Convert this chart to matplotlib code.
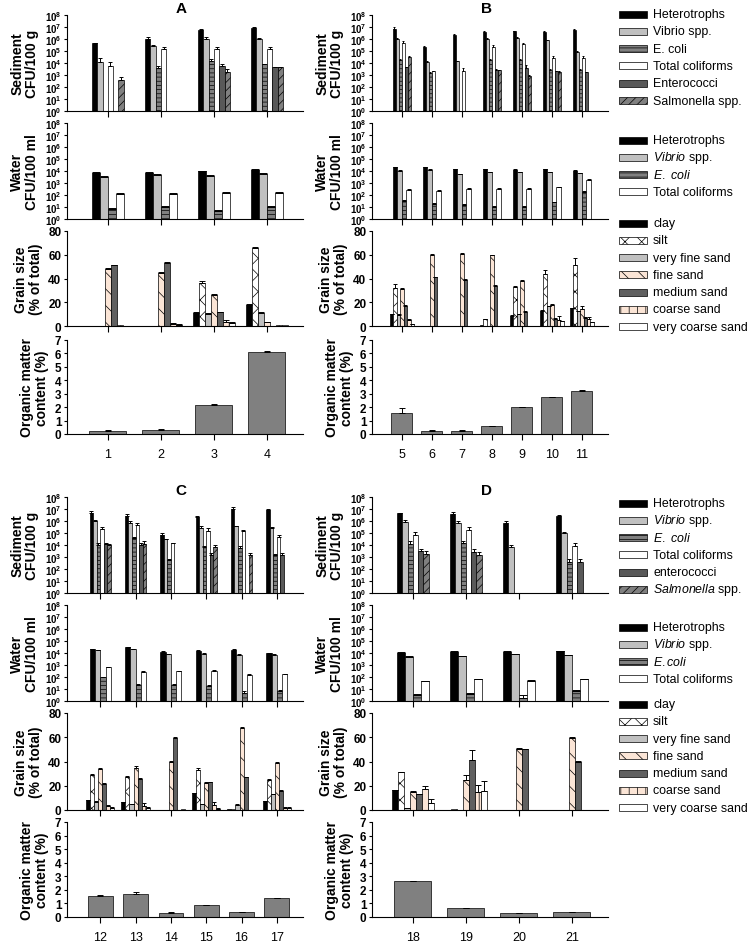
import numpy as np
import matplotlib
matplotlib.use("Agg")
import matplotlib.pyplot as plt
from matplotlib.patches import Rectangle

plt.rcParams['font.family'] = 'Liberation Sans'
plt.rcParams['mathtext.fontset'] = 'custom'
plt.rcParams['mathtext.rm'] = 'Liberation Sans'
plt.rcParams['mathtext.it'] = 'Liberation Sans:italic'
plt.rcParams['mathtext.bf'] = 'Liberation Sans:bold'
plt.rcParams['hatch.linewidth'] = 0.5

nan = np.nan

# ---- sites ----
sites_A = [1, 2, 3, 4]
sites_B = [5, 6, 7, 8, 9, 10, 11]
sites_C = [12, 13, 14, 15, 16, 17]
sites_D = [18, 19, 20, 21]

# ---- sediment CFU/100 g (rows: heterotrophs, vibrio, E. coli, total coliforms, enterococci, salmonella) ----
A_sed = [[4.5e5, 1.0e6, 5.7e6, 9e6],
         [1.2e4, 2.8e5, 1.1e6, 1.1e6],
         [nan, 4e3, 1.6e4, 7.5e3],
         [6e3, 1.5e5, 1.5e5, 1.5e5],
         [nan, nan, 6e3, 4.5e3],
         [3.5e2, nan, 1.7e3, 4.5e3]]
A_sed_err = [[3e4, 6e5, 1e6, 1e6],
             [1.3e4, 5e4, 3e5, 2e5],
             [nan, 2e3, 5e3, 1e3],
             [6e3, 5e4, 8e4, 7e4],
             [nan, nan, 3e3, 5e2],
             [3.3e2, nan, 1.6e3, 5e2]]

B_sed = [[7.4e6, 2.3e5, 2.3e6, 3.5e6, 4.5e6, 4.2e6, 5.7e6],
         [1.1e6, 1.2e4, 1.4e4, 9.8e5, 1.2e6, 8e5, 7.8e4],
         [1.9e4, 1.5e3, nan, 1.9e4, 1.9e4, 2.7e3, 2.7e3],
         [5e5, 2e3, 2e3, 2e5, 3.5e5, 2.5e4, 2.5e4],
         [4.5e3, nan, nan, 2.7e3, 4.2e3, 2e3, 1.7e3],
         [3e4, nan, nan, 2.4e3, 9e2, 1.7e3, nan]]
B_sed_err = [[2.5e6, 5e4, 4e5, 1e6, 5e5, 3e5, 1e6],
             [1e5, 2e3, 2e3, 2e5, 2e5, 1e5, 2e4],
             [2e3, 2e2, nan, 2e3, 2e3, 5e2, 5e2],
             [2e5, 2e2, 1.5e3, 1.2e5, 1.5e5, 1.5e4, 1.2e4],
             [5e2, nan, nan, 3e2, 2e3, 3e2, 2e2],
             [1e4, nan, nan, 3e2, 1e2, 3e2, nan]]

C_sed = [[4.9e6, 2.6e6, 6.6e4, 2.1e6, 9.2e6, 7.6e6],
         [9.8e5, 7e5, 2.9e4, 2.7e5, 3.7e5, 2.7e5],
         [1.1e4, 3.5e4, 5.4e2, 6.6e3, 5.8e3, 1.4e3],
         [2e5, 5.1e5, 1.5e4, 1.6e5, 1.4e5, 4.5e4],
         [1.3e4, 1.1e4, nan, 1.6e3, nan, 1.6e3],
         [9.6e3, 1.3e4, nan, 7e3, 1.6e3, nan]]
C_sed_err = [[1.5e6, 1.5e6, 3e4, 5e5, 5e6, 1.5e6],
             [3e5, 3e5, 3e3, 1e5, 5e4, 5e4],
             [3e3, 1e4, 1e2, 1e3, 2e3, 5e2],
             [1e5, 2e5, 1e3, 8e4, 4e4, 2e4],
             [3e3, 3e3, nan, 5e2, nan, 5e2],
             [3e3, 1e4, nan, 4e3, 5e2, nan]]

D_sed = [[4.6e6, 4e6, 7e5, 2.6e6],
         [8.5e5, 6.2e5, 7.4e3, 9.1e4],
         [1.3e4, 1.5e4, nan, 3.9e2],
         [6.6e4, 1.8e5, nan, 9e3],
         [3e3, 2.5e3, nan, 3.9e2],
         [1.9e3, 1.4e3, nan, nan]]
D_sed_err = [[5e5, 1.5e6, 3e5, 3e5],
             [3e5, 3e5, 3e3, 3e4],
             [8e3, 8e3, nan, 3e2],
             [5e4, 1.5e5, nan, 6e3],
             [2e3, 2e3, nan, 3e2],
             [1.3e3, 1.2e3, nan, nan]]

# ---- water CFU/100 ml (rows: heterotrophs, vibrio, E. coli, total coliforms) ----
A_wat = [[6.8e3, 7e3, 9.4e3, 1.3e4],
         [3.2e3, 4.9e3, 4e3, 6e3],
         [7, 11, 5, 10],
         [130, 130, 160, 150]]
A_wat_err = [[800, 600, 1200, 1500],
             [300, 300, 300, 400],
             [1.5, 2, 1, 1.5],
             [15, 10, 20, 15]]

B_wat = [[2.1e4, 2.1e4, 1.5e4, 1.5e4, 1.3e4, 1.5e4, 1.07e4],
         [1.1e4, 1.2e4, 5.6e3, 7.7e3, 7.7e3, 7.7e3, 6.8e3],
         [30, 19, 15, 10, 10, 24, 190],
         [280, 230, 320, 320, 340, 440, 1900]]
B_wat_err = [[2e3, 2e3, 1e3, 1e3, 1e3, 1e3, 1e3],
             [1e3, 2e3, 500, 500, 500, 500, 500],
             [5, 3, 2, 2, 2, 4, 30],
             [30, 20, 30, 30, 30, 40, 200]]

C_wat = [[2.1e4, 2.9e4, 1.25e4, 1.6e4, 1.7e4, 9.6e3],
         [1.7e4, 2.1e4, 8.5e3, 9e3, 7e3, 7e3],
         [100, 23, 23, 18, 5, 7],
         [650, 260, 300, 320, 160, 170]]
C_wat_err = [[2e3, 3e3, 1e3, 1.5e3, 3e3, 1e3],
             [1e3, 1e3, 500, 500, 500, 500],
             [10, 4, 4, 3, 2, 1.5],
             [60, 30, 30, 30, 15, 15]]

D_wat = [[1.1e4, 1.25e4, 1.25e4, 1.4e4],
         [4.8e3, 5.7e3, 8e3, 6.6e3],
         [3, 3.8, 1.9, 6.9],
         [44, 65, 44, 65]]
D_wat_err = [[1e3, 1e3, 1e3, 1e3],
             [400, 400, 400, 400],
             [0.7, 0.8, 1.5, 1],
             [6, 8, 8, 8]]

# ---- grain size % (rows: clay, silt, very fine, fine, medium, coarse, very coarse) ----
A_grain = [[0, 0, 11, 18],
           [0, 0, 36.5, 65.5],
           [0, 0, 10.5, 11],
           [48, 44.5, 26, 3],
           [51, 53, 11.5, 0.3],
           [0.5, 2, 3, 0.5],
           [0, 1, 2.5, 0.8]]
A_grain_err = [[0, 0, 0.5, 0.5],
               [0, 0, 1, 0.8],
               [0, 0, 0.3, 0.5],
               [0.5, 1, 0.8, 0.5],
               [0.5, 0.5, 0.3, 0],
               [0, 0.3, 2, 0],
               [0, 0.3, 1, 0]]

B_grain = [[10, 0, 0, 0.5, 8.5, 13, 15],
           [32, 0, 0, 5.5, 33, 44, 51],
           [9.5, 0, 0, 0, 10, 16.5, 12.5],
           [31, 60, 61, 59.5, 38, 18, 14.5],
           [16.5, 41, 39, 34, 12, 6, 7],
           [5, 0, 0, 0, 0, 5, 6],
           [1.5, 0, 0, 0, 0, 4, 3]]
B_grain_err = [[0.5, 0, 0, 0, 0.5, 0.5, 0.5],
               [3, 0, 0, 0.5, 1, 3, 6.5],
               [0.5, 0, 0, 0, 0.5, 0.5, 0.5],
               [1, 0.5, 0.5, 0.5, 0.5, 0.5, 2],
               [1.5, 0.5, 0.5, 0.5, 0.5, 0.5, 0.5],
               [1, 0, 0, 0, 0, 3.5, 1.5],
               [0.5, 0, 0, 0, 0, 0.5, 0.5]]

C_grain = [[8, 6.5, 0, 14, 0.5, 7.5],
           [29, 27, 0, 33, 0.5, 24.5],
           [7, 5, 0, 5, 4.5, 13],
           [34, 35, 40, 22.5, 68, 39],
           [21.5, 25.5, 59.5, 23, 27, 16],
           [3.5, 3, 0, 4.5, 0, 2],
           [2, 2, 1, 1, 0, 2]]
C_grain_err = [[0.3, 0.3, 0, 0.3, 0, 0.3],
               [1, 1, 0, 1.5, 0, 1],
               [0.3, 0.3, 0, 0.3, 0.3, 0.3],
               [0.5, 1, 0.5, 0.5, 0.5, 0.5],
               [0.5, 0.5, 0.5, 0.5, 0.5, 0.5],
               [1, 2.5, 0, 2, 0, 0.3],
               [0.3, 0.3, 0, 0.3, 0, 0.3]]

D_grain = [[16.5, 0.3, 0, 0],
           [31, 0.5, 0, 0.3],
           [1.5, 0, 0, 0],
           [15, 25, 50.5, 59.5],
           [13, 41.5, 50, 40],
           [17, 14.5, 0, 0],
           [6, 16, 0.3, 0.3]]
D_grain_err = [[0.3, 0, 0, 0],
               [0.5, 0, 0, 0],
               [0.3, 0, 0, 0],
               [0.5, 4, 0.5, 0.5],
               [0.5, 8, 0.5, 0.3],
               [2.5, 6.5, 0, 0],
               [3, 8, 0, 0]]

# ---- organic matter content % ----
A_org = [0.25, 0.32, 2.15, 6.1]
A_org_err = [0.02, 0.02, 0.06, 0.08]
B_org = [1.6, 0.25, 0.25, 0.57, 1.98, 2.72, 3.2]
B_org_err = [0.3, 0.02, 0.02, 0.05, 0.02, 0.04, 0.1]
C_org = [1.55, 1.68, 0.33, 0.88, 0.35, 1.38]
C_org_err = [0.04, 0.15, 0.02, 0.02, 0.02, 0.02]
D_org = [2.63, 0.68, 0.32, 0.39]
D_org_err = [0.03, 0.02, 0.01, 0.01]

# ---- styles ----
PEACH = '#fbe5d6'
sed_styles = [dict(facecolor='black'),
              dict(facecolor='#c0c0c0'),
              dict(facecolor='#808080', hatch='----'),
              dict(facecolor='white'),
              dict(facecolor='#595959'),
              dict(facecolor='#808080', hatch='////')]
wat_styles = sed_styles[:4]
grain_styles = [dict(facecolor='black'),
                dict(facecolor='white', hatch='xx'),
                dict(facecolor='#c0c0c0'),
                dict(facecolor=PEACH, hatch='\\\\'),
                dict(facecolor='#606060'),
                dict(facecolor=PEACH, hatch='||'),
                dict(facecolor='white')]

W, H = 749, 945
fig = plt.figure(figsize=(W / 100, H / 100), dpi=100)


def add_ax(x0, x1, y_top, y_bot):
    return fig.add_axes([x0 / W, 1 - y_bot / H, (x1 - x0) / W, (y_bot - y_top) / H])


def style_ax(ax, sites, xlim, show_xlabels, ysize=8.5):
    for s in ('top', 'right'):
        ax.spines[s].set_visible(False)
    for s in ('left', 'bottom'):
        ax.spines[s].set_linewidth(0.8)
    ax.set_xlim(*xlim)
    ax.set_xticks(sites)
    ax.tick_params(axis='x', length=4, width=0.8, pad=6, labelsize=9)
    ax.tick_params(axis='y', length=2.5, width=0.8, pad=1.5, labelsize=ysize)
    if not show_xlabels:
        ax.set_xticklabels([])
    for lab in ax.get_yticklabels():
        lab.set_fontweight('bold')


def draw_group(ax, sites, rows, errs, styles, width, xscale):
    x = np.array(sites, float)
    n = len(rows)
    cap = width * xscale * 0.72 / 2 * 0.9
    for i, (vals, err, st) in enumerate(zip(rows, errs, styles)):
        off = (i - (n - 1) / 2) * width
        v = np.array(vals, float)
        e = np.array(err, float)
        ax.bar(x + off, np.nan_to_num(v), width, edgecolor='black', linewidth=0.5, **st)
        ok = ~np.isnan(v) & ~np.isnan(e) & (e > 0) & (np.nan_to_num(v) > 0)
        if ok.any():
            ax.errorbar(x[ok] + off, v[ok], yerr=[np.zeros(ok.sum()), e[ok]], fmt='none',
                        ecolor='black', elinewidth=0.7, capsize=cap, capthick=0.7)


def log_axis(ax, label):
    ax.set_yscale('log')
    ax.set_ylim(1, 1e8)
    ax.set_yticks([10.0 ** k for k in range(9)])
    ax.set_yticklabels([r'$\mathbf{10^{%d}}$' % k for k in range(9)])
    ax.minorticks_off()
    ax.set_ylabel(label, fontsize=10, fontweight='bold', linespacing=1.1)


panels = [
    ('A', sites_A, (0.23, 4.68), (67, 303), (16, 112, 124, 220, 232, 327, 341, 435),
     A_sed, A_sed_err, A_wat, A_wat_err, A_grain, A_grain_err, A_org, A_org_err),
    ('B', sites_B, (4.0, 11.87), (372, 608), (16, 112, 124, 220, 232, 327, 341, 435),
     B_sed, B_sed_err, B_wat, B_wat_err, B_grain, B_grain_err, B_org, B_org_err),
    ('C', sites_C, (11.06, 17.74), (67, 303), (498, 594, 606, 702, 714, 811, 823, 918),
     C_sed, C_sed_err, C_wat, C_wat_err, C_grain, C_grain_err, C_org, C_org_err),
    ('D', sites_D, (17.23, 21.68), (372, 608), (498, 594, 606, 702, 714, 811, 823, 918),
     D_sed, D_sed_err, D_wat, D_wat_err, D_grain, D_grain_err, D_org, D_org_err),
]

for (name, sites, xlim, (x0, x1), ys, sed, sed_e, wat, wat_e, grain, grain_e, org, org_e) in panels:
    xscale = (x1 - x0) / (xlim[1] - xlim[0])  # px per unit

    ax = add_ax(x0, x1, ys[0], ys[1])
    log_axis(ax, 'Sediment\nCFU/100 g')
    draw_group(ax, sites, sed, sed_e, sed_styles, 0.1, xscale)
    style_ax(ax, sites, xlim, False, ysize=7.0)

    ax = add_ax(x0, x1, ys[2], ys[3])
    log_axis(ax, 'Water\nCFU/100 ml')
    draw_group(ax, sites, wat, wat_e, wat_styles, 0.15, xscale)
    style_ax(ax, sites, xlim, False, ysize=7.0)

    ax = add_ax(x0, x1, ys[4], ys[5])
    draw_group(ax, sites, grain, grain_e, grain_styles, 0.114, xscale)
    ax.set_ylim(0, 80)
    ax.set_yticks([0, 20, 40, 60, 80])
    ax.set_ylabel('Grain size\n(% of total)', fontsize=10, fontweight='bold', linespacing=1.1)
    style_ax(ax, sites, xlim, False)

    ax = add_ax(x0, x1, ys[6], ys[7])
    ax.bar(sites, org, 0.7, color='#808080', edgecolor='black', linewidth=0.5)
    ax.errorbar(sites, org, yerr=[np.zeros(len(org)), org_e], fmt='none', ecolor='black',
                elinewidth=0.7, capsize=2.5, capthick=0.7)
    ax.set_ylim(0, 7)
    ax.set_yticks(range(8))
    ax.set_ylabel('Organic matter\ncontent (%)', fontsize=10, fontweight='bold', linespacing=1.1)
    style_ax(ax, sites, xlim, True)

    fig.text((x0 + x1) / 2 / W - 0.005, 1 - (ys[0] - 7) / H, name, ha='center', va='center',
             fontsize=11, fontweight='bold')


def legend_rows(entries, y0, dy=17.3, x0=619, w=28, h=7):
    for k, (label, st) in enumerate(entries):
        yc = y0 + k * dy
        fig.add_artist(Rectangle((x0 / W, 1 - (yc + h / 2) / H), w / W, h / H,
                                 transform=fig.transFigure, edgecolor='black',
                                 linewidth=0.5, **st))
        fig.text((x0 + w + 6) / W, 1 - yc / H, label, va='center', ha='left', fontsize=8.9)


sed_labels_B = ['Heterotrophs', 'Vibrio spp.', 'E. coli', 'Total coliforms',
                'Enterococci', 'Salmonella spp.']
wat_labels_B = ['Heterotrophs', r'$\mathit{Vibrio}$ spp.', r'$\mathit{E.\ coli}$', 'Total coliforms']
sed_labels_D = ['Heterotrophs', r'$\mathit{Vibrio}$ spp.', r'$\mathit{E.\ coli}$', 'Total coliforms',
                'enterococci', r'$\mathit{Salmonella}$ spp.']
wat_labels_D = ['Heterotrophs', r'$\mathit{Vibrio}$ spp.', r'$\mathit{E.coli}$', 'Total coliforms']
grain_labels = ['clay', 'silt', 'very fine sand', 'fine sand', 'medium sand',
                'coarse sand', 'very coarse sand']

legend_rows(list(zip(sed_labels_B, sed_styles)), 15)
legend_rows(list(zip(wat_labels_B, wat_styles)), 141)
legend_rows(list(zip(grain_labels, grain_styles)), 224)
legend_rows(list(zip(sed_labels_D, sed_styles)), 504)
legend_rows(list(zip(wat_labels_D, wat_styles)), 628)
legend_rows(list(zip(grain_labels, grain_styles)), 705)

fig.savefig('out.png', dpi=100)
